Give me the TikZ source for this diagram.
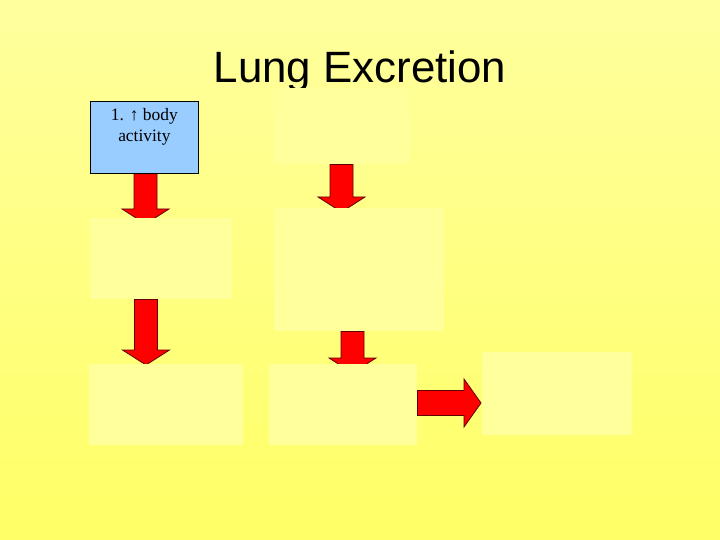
\documentclass[tikz,border=0pt]{standalone}
\usepackage{fontspec}
\setmainfont{Liberation Serif}
\newfontfamily\titlefont{Liberation Sans}
\usetikzlibrary{calc}
\definecolor{bgtop}{HTML}{FFFF9E}
\definecolor{bgbot}{HTML}{FFFF66}
\definecolor{paleboxc}{HTML}{FFFF9C}
\definecolor{blueboxc}{HTML}{99CCFF}
\definecolor{arrowred}{HTML}{FF0000}
\definecolor{arrowedge}{HTML}{600000}
\tikzset{
  palebox/.style={rectangle, fill=paleboxc, draw=none, anchor=north west, inner sep=0pt},
  bluebox/.style={rectangle, fill=blueboxc, draw=black, line width=0.8bp, anchor=north west, inner sep=0pt},
  redarrow/.style={fill=arrowred, draw=arrowedge, line width=0.8bp, line join=miter},
}
% vertical fat arrow: #1 start (top), #2 tip
\newcommand\fatdownarrow[2]{%
  \draw[redarrow] let \p1=(#1), \p2=(#2) in
    (\x2-11.5bp,\y1) -- (\x2+11.5bp,\y1) -- (\x2+11.5bp,\y2+15bp) -- (\x2+23.5bp,\y2+15bp)
    -- (\x2,\y2) -- (\x2-23.5bp,\y2+15bp) -- (\x2-11.5bp,\y2+15bp) -- cycle;}
% horizontal fat arrow: #1 start (left), #2 tip
\newcommand\fatrightarrow[2]{%
  \draw[redarrow] let \p1=(#1), \p2=(#2) in
    (\x1,\y2+12.5bp) -- (\x2-17bp,\y2+12.5bp) -- (\x2-17bp,\y2+24bp) -- (\x2,\y2)
    -- (\x2-17bp,\y2-24bp) -- (\x2-17bp,\y2-12.5bp) -- (\x1,\y2-12.5bp) -- cycle;}
\begin{document}
\begin{tikzpicture}[x=1bp,y=-1bp]
\useasboundingbox (0,0) rectangle (720,540);
\shade[top color=bgtop, bottom color=bgbot] (0,0) rectangle (720,540);

% title
\node[anchor=base, inner sep=0pt, font=\titlefont\fontsize{44}{50}\selectfont] (title) at (360,83) {Lung Excretion};

% arrow tip coordinates
\coordinate (t1) at (145.5,224);
\coordinate (t2) at (146,365);
\coordinate (t3) at (341.5,212);
\coordinate (t4) at (352.5,373);
\coordinate (t5) at (481,403);

% nodes (placed first for anchors, drawn again on top of arrows)
\path (90,101) node[bluebox, minimum width=108bp, minimum height=72bp] (b1) {};
\path (90,218) node[palebox, minimum width=142bp, minimum height=81bp] (b2) {};
\path (89,364) node[palebox, minimum width=154bp, minimum height=81bp] (b3) {};
\path (274,88) node[palebox, minimum width=136bp, minimum height=76bp] (c1) {};
\path (274,208) node[palebox, minimum width=170bp, minimum height=123bp] (c2) {};
\path (269,364) node[palebox, minimum width=148bp, minimum height=81bp] (c3) {};
\path (482,352) node[palebox, minimum width=150bp, minimum height=83bp] (d1) {};

% arrows
\fatdownarrow{b1.south}{t1}
\fatdownarrow{b2.south}{t2}
\fatdownarrow{c1.south}{t3}
\fatdownarrow{c2.south}{t4}
\fatrightarrow{c3.east}{t5}

% boxes on top of arrows
\path (90,101) node[bluebox, minimum width=108bp, minimum height=72bp] (b1d) {};
\path (90,218) node[palebox, minimum width=142bp, minimum height=81bp] (b2d) {};
\path (89,364) node[palebox, minimum width=154bp, minimum height=81bp] (b3d) {};
\path (274,88) node[palebox, minimum width=136bp, minimum height=76bp] (c1d) {};
\path (274,208) node[palebox, minimum width=170bp, minimum height=123bp] (c2d) {};
\path (269,364) node[palebox, minimum width=148bp, minimum height=81bp] (c3d) {};
\path (482,352) node[palebox, minimum width=150bp, minimum height=83bp] (d1d) {};

\node[anchor=north, align=center, inner sep=0pt, font=\fontsize{17.5}{21}\selectfont] (b1t) at ([yshift=-7bp]b1.north) {1. ↑ body\\activity};
\end{tikzpicture}
\end{document}
